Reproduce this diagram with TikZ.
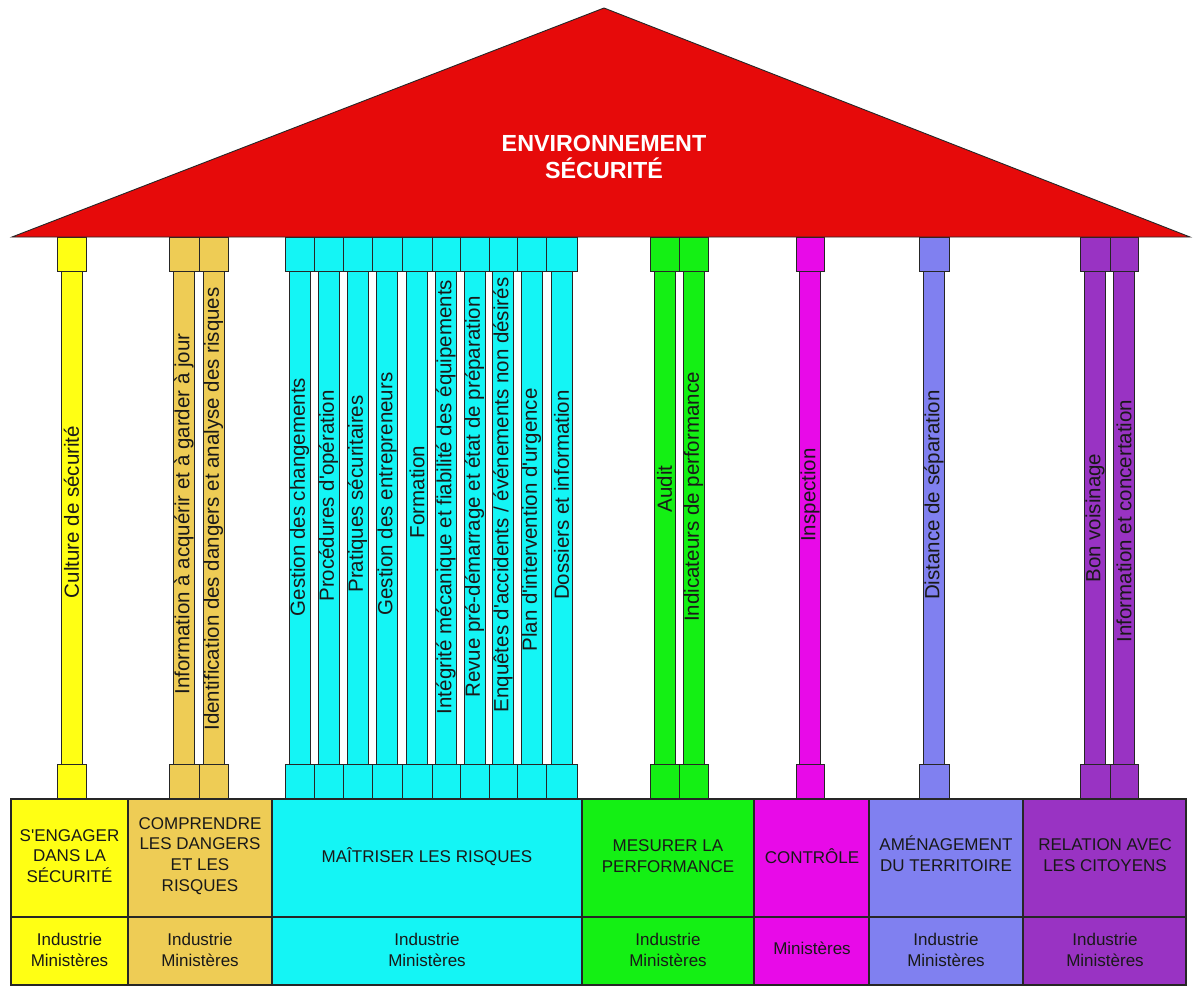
\documentclass[tikz,border=0pt]{standalone}
\usepackage{fontspec}
\setmainfont{Liberation Sans}[Ligatures=TeXOff]
\definecolor{cRed}{RGB}{230,10,10}
\definecolor{cYel}{RGB}{255,255,20}
\definecolor{cTan}{RGB}{238,204,85}
\definecolor{cCya}{RGB}{20,245,245}
\definecolor{cGrn}{RGB}{20,240,20}
\definecolor{cMag}{RGB}{232,10,232}
\definecolor{cLav}{RGB}{128,128,240}
\definecolor{cPur}{RGB}{153,51,195}
\tikzset{
  pline/.style={draw=black!85, line width=0.9pt},
  boxline/.style={draw=black!85, line width=1.1pt},
  coltext/.style={rotate=90, inner sep=0pt, text=black!90, font=\fontsize{20.5}{24}\selectfont},
  titletext/.style={align=center, inner sep=0pt, text=black!90, font=\fontsize{17}{20.8}\selectfont},
  actortext/.style={align=center, inner sep=0pt, text=black!90, font=\fontsize{17}{20.5}\selectfont},
  rooftext/.style={align=center, inner sep=0pt, text=white, font=\bfseries\fontsize{23.3}{27}\selectfont}
}
\begin{document}
\begin{tikzpicture}[x=1pt,y=-1pt]
\useasboundingbox (0,0) rectangle (1193,985);
\fill[white] (0,0) rectangle (1193,985);

% pillars: shaft, capital, base
\foreach \l/\r/\c in {57/86/cYel, 169/199/cTan, 199/228/cTan,
  285/314/cCya, 314/343/cCya, 343/372/cCya, 372/402/cCya, 402/432/cCya,
  432/460/cCya, 460/489/cCya, 489/517/cCya, 517/546/cCya, 546/577/cCya,
  650/679/cGrn, 679/708/cGrn, 796/824/cMag, 919/949/cLav,
  1080/1110/cPur, 1110/1138/cPur} {
  \pgfmathsetmacro\m{(\l+\r)/2}
  \draw[pline, fill=\c] (\m-10.5,271) rectangle (\m+10.5,764);
  \draw[pline, fill=\c] (\l,237) rectangle (\r,271);
  \draw[pline, fill=\c] (\l,764) rectangle (\r,799);
}

% roof
\draw[pline, fill=cRed] (12,237) -- (604,8) -- (1190,237) -- cycle;
\node[rooftext] (roof) at (604,157) {ENVIRONNEMENT\\SÉCURITÉ};

% column labels
\node[coltext] (c1) at (71.5,512) {Culture de sécurité};
\node[coltext] (c2) at (184,514) {Information à acquérir et à garder à jour};
\node[coltext] (c3) at (213.5,509) {Identification des dangers et analyse des risques};
\node[coltext] (c4) at (299.5,497) {Gestion des changements};
\node[coltext] (c5) at (328.5,496) {Procédures d'opération};
\node[coltext] (c6) at (357.5,494) {Pratiques sécuritaires};
\node[coltext] (c7) at (387,494) {Gestion des entrepreneurs};
\node[coltext] (c8) at (417,492) {Formation};
\node[coltext] (c9) at (446,497) {Intégrité mécanique et fiabilité des équipements};
\node[coltext] (c10) at (474.5,497) {Revue pré-démarrage et état de préparation};
\node[coltext] (c11) at (503,495) {Enquêtes d'accidents / événements non désirés};
\node[coltext] (c12) at (531.5,520) {Plan d'intervention d'urgence};
\node[coltext] (c13) at (561.5,495) {Dossiers et information};
\node[coltext] (c14) at (664.5,489) {Audit};
\node[coltext] (c15) at (693.5,497) {Indicateurs de performance};
\node[coltext] (c16) at (810,495) {Inspection};
\node[coltext] (c17) at (934,495) {Distance de séparation};
\node[coltext] (c18) at (1095,518) {Bon voisinage};
\node[coltext] (c19) at (1124,521) {Information et concertation};

% bottom boxes
\foreach \l/\r/\c in {11/128/cYel, 128/272/cTan, 272/582/cCya, 582/754/cGrn,
  754/869/cMag, 869/1023/cLav, 1023/1186/cPur} {
  \draw[boxline, fill=\c] (\l,799) rectangle (\r,917);
  \draw[boxline, fill=\c] (\l,917) rectangle (\r,985);
}

\node[titletext] (t1) at (69.5,856) {S'ENGAGER\\DANS LA\\SÉCURITÉ};
\node[titletext] (t2) at (200,856) {COMPRENDRE\\LES DANGERS\\ET LES\\RISQUES};
\node[titletext] (t3) at (427,857) {MAÎTRISER LES RISQUES};
\node[titletext] (t4) at (668,856) {MESURER LA\\PERFORMANCE};
\node[titletext] (t5) at (812,856) {CONTRÔLE};
\node[titletext] (t6) at (946,854) {AMÉNAGEMENT\\DU TERRITOIRE};
\node[titletext] (t7) at (1105,855) {RELATION AVEC\\LES CITOYENS};

\node[actortext] (a1) at (69.5,950) {Industrie\\Ministères};
\node[actortext] (a2) at (200,950) {Industrie\\Ministères};
\node[actortext] (a3) at (427,950) {Industrie\\Ministères};
\node[actortext] (a4) at (668,950) {Industrie\\Ministères};
\node[actortext] (a5) at (812,948) {Ministères};
\node[actortext] (a6) at (946,950) {Industrie\\Ministères};
\node[actortext] (a7) at (1105,950) {Industrie\\Ministères};
\end{tikzpicture}
\end{document}
